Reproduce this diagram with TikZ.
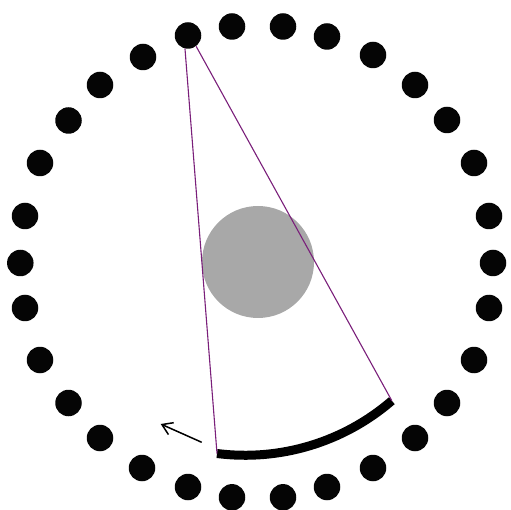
\documentclass[tikz,border=0pt]{standalone}
\usepackage{xcolor}
\usepackage{tikz}
\usetikzlibrary{arrows.meta}
\definecolor{beampurple}{HTML}{7A1F7A}
\definecolor{phantomgray}{HTML}{A8A8A8}
\definecolor{detblack}{HTML}{050505}

\begin{document}
\begin{tikzpicture}[
  x=1pt,y=1pt,
  det/.style={
    circle,
    fill=detblack,
    inner sep=0pt,
    minimum size=26.5pt
  },
  phantom/.style={circle,fill=phantomgray,inner sep=0pt,minimum size=112pt},
  beam/.style={draw=beampurple,line width=1.1pt},
  detarc/.style={draw=black,line width=9pt},
  turn/.style={-{Straight Barb[length=10pt,width=13pt]},draw=black,line width=1.5pt}
]
  \useasboundingbox (0,0) rectangle (511,-510);

  \node[phantom] (obj) at (258,-262) {};

  \node[det] (d1) at (493,-263) {};
  \node[det] (d2) at (489,-216) {};
  \node[det] (d3) at (474,-163) {};
  \node[det] (d4) at (447,-120) {};
  \node[det] (d5) at (415,-85) {};
  \node[det] (d6) at (373,-55) {};
  \node[det] (d7) at (327,-36.5) {};
  \node[det] (d8) at (283,-26.5) {};
  \node[det] (d9) at (232,-26.5) {};
  \node[det] (d10) at (188,-35.5) {};
  \node[det] (d11) at (143,-57) {};
  \node[det] (d12) at (100,-85) {};
  \node[det] (d13) at (68.5,-120.5) {};
  \node[det] (d14) at (40,-163) {};
  \node[det] (d15) at (25,-216) {};
  \node[det] (d16) at (20.3,-263) {};
  \node[det] (d17) at (25,-308) {};
  \node[det] (d18) at (40,-360) {};
  \node[det] (d19) at (68.5,-403) {};
  \node[det] (d20) at (100,-438) {};
  \node[det] (d21) at (142,-468) {};
  \node[det] (d22) at (188,-487) {};
  \node[det] (d23) at (232,-497.3) {};
  \node[det] (d24) at (283,-497.3) {};
  \node[det] (d25) at (327,-487) {};
  \node[det] (d26) at (373,-468) {};
  \node[det] (d27) at (415,-438) {};
  \node[det] (d28) at (447,-403) {};
  \node[det] (d29) at (474,-360) {};
  \node[det] (d30) at (489,-308) {};

  % fan of the source and its detector arc
  \coordinate (arcL) at (217,-453.5);
  \draw[detarc] (arcL) arc[start angle=262.8,end angle=310.8,radius=224.5] coordinate (arcR);
  \draw[beam] (d10.257) -- (arcL);
  \draw[beam] (d10.307) -- (arcR);

  % sense of rotation
  \coordinate (rotA) at (201.7,-442.3);
  \coordinate (rotB) at (160.7,-424);
  \draw[turn] (rotA) -- (rotB);
\end{tikzpicture}
\end{document}
